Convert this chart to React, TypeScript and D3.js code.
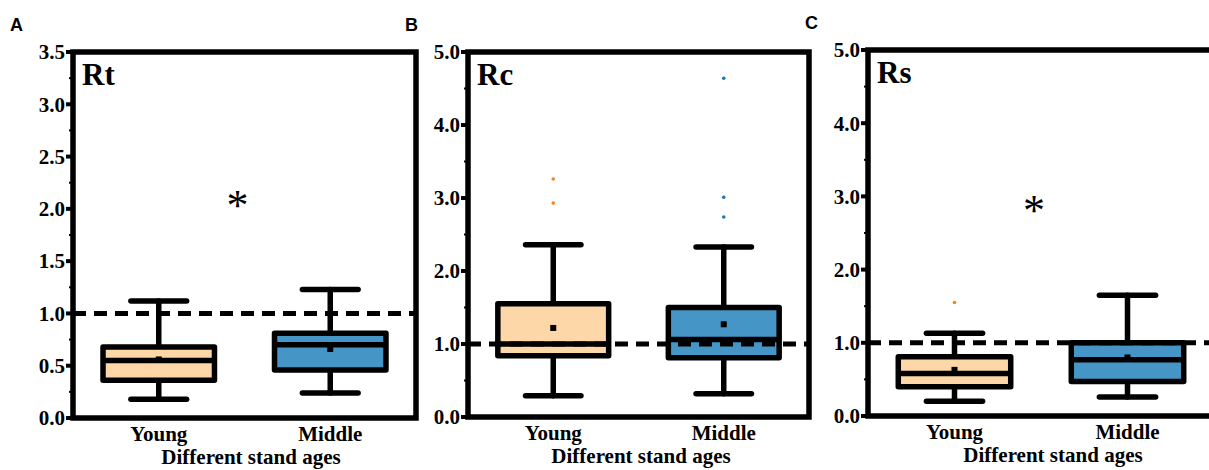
import React from "react";
import * as d3 from "d3";

const groups = ["Young", "Middle"];
const fills = ["#FDD7A7", "#4596C6"];
const outlierColors = ["#F58220", "#1F77B4"];

// box stats: min, q1, median, q3, max, mean
const rtStats = [
  { min: 0.18, q1: 0.36, median: 0.55, q3: 0.68, max: 1.12, mean: 0.56 },
  { min: 0.24, q1: 0.46, median: 0.7, q3: 0.81, max: 1.23, mean: 0.66 },
];
const rtOutliers = [[], []];

const rcStats = [
  { min: 0.29, q1: 0.84, median: 1.0, q3: 1.55, max: 2.36, mean: 1.22 },
  { min: 0.32, q1: 0.81, median: 1.06, q3: 1.5, max: 2.33, mean: 1.27 },
];
const rcOutliers = [[3.26, 2.93], [4.64, 3.01, 2.74]];

const rsStats = [
  { min: 0.2, q1: 0.4, median: 0.58, q3: 0.81, max: 1.13, mean: 0.63 },
  { min: 0.26, q1: 0.47, median: 0.77, q3: 1.0, max: 1.65, mean: 0.8 },
];
const rsOutliers = [[1.55], []];

const rtTicks = [0, 0.5, 1, 1.5, 2, 2.5, 3, 3.5];
const rcTicks = [0, 1, 2, 3, 4, 5];
const rsTicks = [0, 1, 2, 3, 4, 5];

const serif = "'Liberation Serif', 'Times New Roman', serif";
const sans = "'Liberation Sans', Arial, sans-serif";

type Stat = { min: number; q1: number; median: number; q3: number; max: number; mean: number };

type PanelProps = {
  letter: string;
  name: string;
  left: number;
  right: number;
  top: number;
  bottom: number;
  domainMax: number;
  ticks: number[];
  stats: Stat[];
  outliers: number[][];
  star: number | null;
  titleDx: number;
};

function Panel(p: PanelProps) {
  const x = d3.scalePoint<string>().domain(groups).range([p.left, p.right]).padding(0.5);
  const y = d3.scaleLinear().domain([0, p.domainMax]).range([p.bottom, p.top]);
  const step = x.step();
  const boxW = step * 0.65;
  const capW = boxW * 0.5;
  const minorStep = p.ticks[1] - p.ticks[0];
  const minor = p.ticks.slice(0, -1).map((t) => t + minorStep / 2);
  const fmt = d3.format(".1f");
  const mid = ((x(groups[0]) as number) + (x(groups[1]) as number)) / 2;

  return (
    <g>
      <text x={p.left - 63} y={p.top - 21} fontFamily={sans} fontWeight="bold" fontSize={18}>
        {p.letter}
      </text>

      {/* boxes */}
      {p.stats.map((s, i) => {
        const cx = x(groups[i]) as number;
        return (
          <g key={i} stroke="#000" strokeWidth={5.5} strokeLinecap="round" strokeLinejoin="round">
            <line x1={cx} x2={cx} y1={y(s.max)} y2={y(s.q3)} />
            <line x1={cx} x2={cx} y1={y(s.q1)} y2={y(s.min)} />
            <line x1={cx - capW / 2} x2={cx + capW / 2} y1={y(s.max)} y2={y(s.max)} />
            <line x1={cx - capW / 2} x2={cx + capW / 2} y1={y(s.min)} y2={y(s.min)} />
            <rect
              x={cx - boxW / 2}
              y={y(s.q3)}
              width={boxW}
              height={y(s.q1) - y(s.q3)}
              fill={fills[i]}
            />
            <line x1={cx - boxW / 2} x2={cx + boxW / 2} y1={y(s.median)} y2={y(s.median)} strokeLinecap="butt" />
            <rect x={cx - 3} y={y(s.mean) - 3} width={6} height={6} fill="#000" stroke="none" />
            {p.outliers[i].map((o, j) => (
              <circle key={j} cx={cx} cy={y(o)} r={1.8} fill={outlierColors[i]} stroke="none" />
            ))}
          </g>
        );
      })}

      {/* reference line */}
      <line
        x1={p.left}
        x2={p.right}
        y1={y(1)}
        y2={y(1)}
        stroke="#000"
        strokeWidth={5}
        strokeDasharray="13 8"
      />

      {/* frame */}
      <rect
        x={p.left}
        y={p.top}
        width={p.right - p.left}
        height={p.bottom - p.top}
        fill="none"
        stroke="#000"
        strokeWidth={5.5}
      />

      {/* y ticks */}
      {p.ticks.map((t) => (
        <g key={t}>
          <line x1={p.left - 7} x2={p.left} y1={y(t)} y2={y(t)} stroke="#000" strokeWidth={4} />
          <text
            x={p.left - 8}
            y={y(t)}
            dy="0.35em"
            textAnchor="end"
            fontFamily={serif}
            fontWeight="bold"
            fontSize={21}
          >
            {fmt(t)}
          </text>
        </g>
      ))}
      {minor.map((t) => (
        <line key={t} x1={p.left - 4} x2={p.left} y1={y(t)} y2={y(t)} stroke="#000" strokeWidth={2} />
      ))}

      <text x={p.left + 9} y={p.top + 33} fontFamily={serif} fontWeight="bold" fontSize={31}>
        {p.name}
      </text>

      {p.star !== null && (
        <text
          x={mid - 7}
          y={y(p.star) + 20}
          textAnchor="middle"
          fontFamily={serif}
          fontSize={44}
        >
          *
        </text>
      )}

      {/* x labels */}
      {groups.map((g) => (
        <text
          key={g}
          x={x(g) as number}
          y={p.bottom + 23}
          textAnchor="middle"
          fontFamily={serif}
          fontWeight="bold"
          fontSize={21}
        >
          {g}
        </text>
      ))}
      <text
        x={p.left + p.titleDx}
        y={p.bottom + 46}
        textAnchor="middle"
        fontFamily={serif}
        fontWeight="bold"
        fontSize={21}
      >
        Different stand ages
      </text>
    </g>
  );
}

export default function App() {
  return (
    <svg
      width={1209}
      height={470}
      style={{ position: "absolute", left: 0, top: 0, background: "#fff" }}
    >
      <Panel
        letter="A"
        name="Rt"
        left={73}
        right={416}
        top={52}
        bottom={418}
        domainMax={3.5}
        ticks={rtTicks}
        stats={rtStats}
        outliers={rtOutliers}
        star={2.08}
        titleDx={178}
      />
      <Panel
        letter="B"
        name="Rc"
        left={468}
        right={809}
        top={52}
        bottom={417}
        domainMax={5}
        ticks={rcTicks}
        stats={rcStats}
        outliers={rcOutliers}
        star={null}
        titleDx={173}
      />
      <Panel
        letter="C"
        name="Rs"
        left={868}
        right={1214}
        top={50}
        bottom={416}
        domainMax={5}
        ticks={rsTicks}
        stats={rsStats}
        outliers={rsOutliers}
        star={2.88}
        titleDx={185}
      />
    </svg>
  );
}
